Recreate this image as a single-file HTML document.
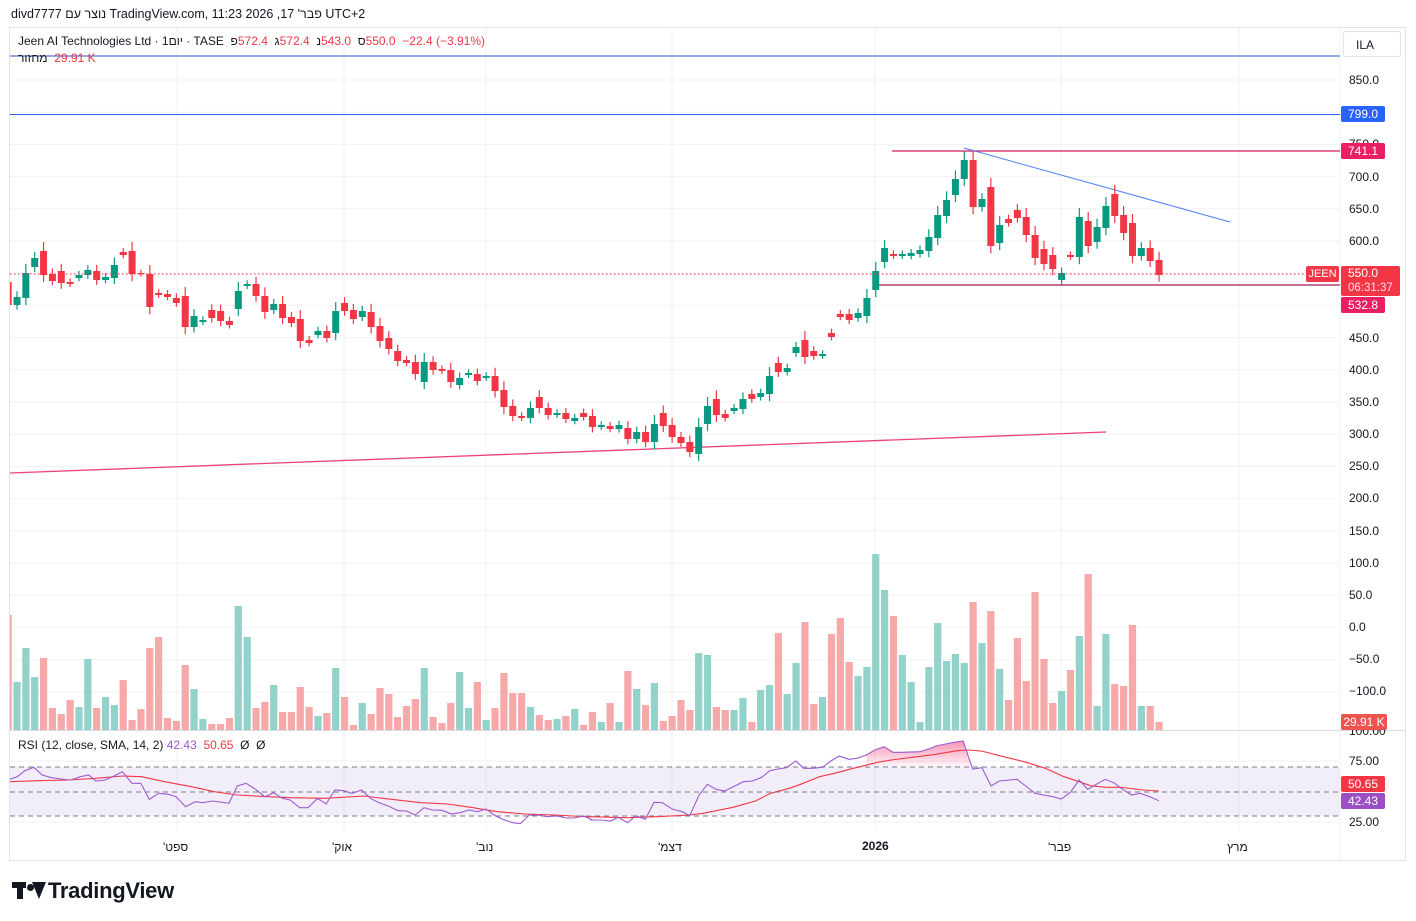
<!DOCTYPE html>
<html><head><meta charset="utf-8">
<style>
body{margin:0;width:1416px;height:921px;background:#fff;overflow:hidden;font-family:"Liberation Sans","Noto Sans CJK JP",sans-serif;position:relative}
.t{position:absolute;white-space:nowrap;font-size:12px;color:#131722}
.s{display:inline-block;unicode-bidi:isolate}
.lab{position:absolute;left:1341px;width:44px;height:16px;color:#fff;font-size:12px;text-align:center;line-height:16px;border-radius:2px}
.ax{position:absolute;left:1349px;font-size:12px;color:#131722}
</style></head><body>
<div class="t" style="left:11px;top:7px;font-size:12.5px"><span class="s">divd7777</span> <span class="s" dir="rtl">נוצר עם</span> <span class="s">TradingView.com, 11:23 2026 ,17</span> <span class="s" dir="rtl">פבר'</span> <span class="s">UTC+2</span></div>
<svg id="c" width="1416" height="921" style="position:absolute;left:0;top:0"></svg>
<div class="t" style="left:18px;top:34px"><span class="s">Jeen AI Technologies Ltd · 1</span><span class="s" dir="rtl">יום</span><span class="s">&nbsp;· TASE&nbsp;&nbsp;</span><span class="s">פ</span><span class="s" style="color:#f23645">572.4&nbsp;&nbsp;</span><span class="s">ג</span><span class="s" style="color:#f23645">572.4&nbsp;&nbsp;</span><span class="s">נ</span><span class="s" style="color:#f23645">543.0&nbsp;&nbsp;</span><span class="s">ס</span><span class="s" style="color:#f23645">550.0&nbsp;&nbsp;−22.4 (−3.91%)</span></div>
<div class="t" style="left:18px;top:51px"><span class="s" dir="rtl">מחזור</span>&nbsp;&nbsp;<span class="s" style="color:#f23645">29.91 K</span></div>
<div class="t" style="left:18px;top:738px"><span class="s">RSI (12, close, SMA, 14, 2)&nbsp;</span><span class="s" style="color:#9c55d0">42.43&nbsp;&nbsp;</span><span class="s" style="color:#f23645">50.65&nbsp;&nbsp;</span><span class="s">Ø&nbsp;&nbsp;Ø</span></div>
<div style="position:absolute;left:1343px;top:31px;width:58px;height:26px;border:1px solid #e0e3eb;border-radius:3px;font-size:12px;line-height:26px;text-align:center;color:#131722;box-sizing:border-box;padding-right:14px">ILA</div>
<div class="ax" style="top:73px">850.0</div>
<div class="ax" style="top:137px">750.0</div>
<div class="ax" style="top:170px">700.0</div>
<div class="ax" style="top:202px">650.0</div>
<div class="ax" style="top:234px">600.0</div>
<div class="ax" style="top:331px">450.0</div>
<div class="ax" style="top:363px">400.0</div>
<div class="ax" style="top:395px">350.0</div>
<div class="ax" style="top:427px">300.0</div>
<div class="ax" style="top:459px">250.0</div>
<div class="ax" style="top:491px">200.0</div>
<div class="ax" style="top:524px">150.0</div>
<div class="ax" style="top:556px">100.0</div>
<div class="ax" style="top:588px">50.0</div>
<div class="ax" style="top:620px">0.0</div>
<div class="ax" style="top:652px">−50.0</div>
<div class="ax" style="top:684px">−100.0</div>
<div class="ax" style="top:724px">100.00</div>
<div class="ax" style="top:754px">75.00</div>
<div class="ax" style="top:815px">25.00</div>
<div class="lab" style="top:106px;background:#2962ff">799.0</div>
<div class="lab" style="top:143px;background:#e91e63">741.1</div>
<div class="lab" style="top:266px;height:30px;width:59px;background:#f23645;line-height:14px;text-align:left;padding-left:7px;box-sizing:border-box">550.0<br><span style="font-size:11.5px;opacity:.85">06:31:37</span></div>
<div style="position:absolute;left:1306px;top:266px;width:33px;height:16px;background:#f23645;color:#fff;font-size:11px;line-height:16px;text-align:center;border-radius:2px">JEEN</div>
<div class="lab" style="top:297px;background:#e91e63">532.8</div>
<div class="lab" style="top:714px;background:#ef5350;width:46px">29.91 K</div>
<div class="lab" style="top:776px;background:#f23645">50.65</div>
<div class="lab" style="top:793px;background:#9c4fc4">42.43</div>
<div class="t" style="left:163px;top:840px"><span dir="rtl" class="s">ספט'</span></div>
<div class="t" style="left:332px;top:840px"><span dir="rtl" class="s">אוק'</span></div>
<div class="t" style="left:476px;top:840px"><span dir="rtl" class="s">נוב'</span></div>
<div class="t" style="left:658px;top:840px"><span dir="rtl" class="s">דצמ'</span></div>
<div class="t" style="left:862px;top:839px;font-weight:bold">2026</div>
<div class="t" style="left:1048px;top:840px"><span dir="rtl" class="s">פבר'</span></div>
<div class="t" style="left:1227px;top:840px"><span dir="rtl" class="s">מרץ</span></div>
<div style="position:absolute;left:12px;top:878px;font-size:22px;font-weight:bold;color:#131722;letter-spacing:-0.3px"><span style="display:inline-block;width:36px;height:17px;position:relative;vertical-align:-1px"><span style="position:absolute;left:0;top:0;width:14px;height:6px;background:#131722"></span><span style="position:absolute;left:5px;top:0;width:6px;height:17px;background:#131722"></span><span style="position:absolute;left:15px;top:2px;width:7px;height:7px;border-radius:50%;background:#131722"></span><span style="position:absolute;top:0;width:0;height:0;border-left:7px solid transparent;border-right:7px solid transparent;border-top:17px solid #131722;left:20px"></span></span>TradingView</div>
<script>
var NS="http://www.w3.org/2000/svg",S=document.getElementById('c');
function el(t,a){var e=document.createElementNS(NS,t);for(var k in a)e.setAttribute(k,a[k]);S.appendChild(e);return e;}
var d=el('defs',{});
d.innerHTML='<clipPath id="cp"><rect x="10" y="27" width="1330" height="834"/></clipPath><linearGradient id="pg" x1="0" y1="0" x2="0" y2="1"><stop offset="0" stop-color="#f23d7a" stop-opacity="0.55"/><stop offset="1" stop-color="#f23d7a" stop-opacity="0"/></linearGradient>';
el('rect',{x:9.5,y:27.5,width:1396,height:833,fill:'none',stroke:'#e0e3eb'});
el('line',{x1:1340,y1:28,x2:1340,y2:860,stroke:'#f0f3fa'});
for(var p=850;p>=-100;p-=50){var y=80+(850-p)*0.644;el('line',{x1:10,y1:y,x2:1340,y2:y,stroke:'#f2f2f4'});}
[177,344,486,672,875,1061,1239].forEach(function(x){el('line',{x1:x,y1:28,x2:x,y2:830,stroke:'#f0f0f3'});});
el('line',{x1:10,y1:730.5,x2:1405,y2:730.5,stroke:'#d8dbe3'});
el('line',{x1:10,y1:761,x2:1340,y2:761,stroke:'#f2f2f4'});
el('line',{x1:10,y1:822,x2:1340,y2:822,stroke:'#f2f2f4'});
var g=el('g',{'clip-path':'url(#cp)'});
function ge(t,a){var e=document.createElementNS(NS,t);for(var k in a)e.setAttribute(k,a[k]);g.appendChild(e);return e;}
ge('line',{x1:10,y1:56,x2:1340,y2:56,stroke:'#2a55c8','stroke-width':1});
ge('line',{x1:10,y1:114.5,x2:1340,y2:114.5,stroke:'#2962ff','stroke-width':1});
ge('line',{x1:892,y1:151,x2:1340,y2:151,stroke:'#d81b5a','stroke-width':1.2});
ge('line',{x1:876,y1:285,x2:1340,y2:285,stroke:'#a8174e','stroke-width':1.2});
ge('line',{x1:10,y1:473,x2:1106,y2:432,stroke:'#e91e63','stroke-width':1.3,'stroke-opacity':0.85});
ge('line',{x1:964,y1:148,x2:1230,y2:222,stroke:'#3d73f5','stroke-width':1,'stroke-opacity':0.9});
var C=[[282,305,'r'],[297,305,'g'],[273,298,'g'],[258,267,'g'],[251,275,'r'],[274,281,'r'],[271,283,'r'],[282,284,'r'],[275,278,'g'],[270,275,'g'],[271,280,'r'],[277,280,'g'],[265,278,'g'],[252,255,'r'],[251,274,'r'],[273,274,'r'],[274,307,'r'],[293,295,'r'],[294,297,'r'],[298,303,'r'],[296,327,'r'],[316,327,'g'],[320,322,'g'],[310,318,'r'],[311,321,'r'],[321,325,'r'],[291,309,'g'],[284,286,'g'],[284,296,'r'],[296,312,'r'],[304,310,'g'],[304,318,'r'],[317,323,'r'],[319,341,'r'],[340,343,'r'],[331,335,'g'],[331,338,'r'],[311,333,'g'],[303,311,'r'],[310,319,'r'],[311,317,'g'],[312,327,'r'],[326,341,'r'],[338,349,'r'],[351,361,'r'],[360,363,'r'],[362,374,'r'],[362,382,'g'],[362,370,'r'],[369,371,'r'],[370,382,'r'],[378,385,'g'],[373,375,'g'],[374,381,'r'],[376,378,'g'],[376,391,'r'],[390,407,'r'],[406,416,'r'],[416,418,'r'],[408,418,'g'],[397,408,'r'],[408,415,'r'],[413,415,'g'],[413,419,'r'],[418,421,'g'],[413,417,'r'],[416,427,'r'],[425,427,'g'],[426,429,'r'],[425,429,'g'],[428,439,'r'],[432,439,'g'],[432,442,'r'],[424,442,'g'],[413,426,'r'],[425,437,'r'],[437,443,'r'],[442,452,'r'],[427,454,'g'],[406,424,'g'],[399,415,'r'],[414,418,'r'],[408,411,'g'],[399,409,'g'],[394,399,'r'],[393,397,'g'],[376,394,'g'],[363,372,'r'],[368,372,'g'],[347,353,'g'],[340,357,'r'],[351,356,'r'],[354,356,'g'],[333,337,'r'],[314,317,'r'],[314,320,'r'],[313,318,'g'],[298,316,'g'],[271,290,'g'],[248,262,'g'],[254,256,'r'],[254,256,'g'],[253,256,'g'],[250,254,'g'],[237,251,'g'],[215,238,'g'],[200,216,'g'],[179,195,'g'],[160,179,'g'],[160,207,'r'],[199,207,'g'],[187,246,'r'],[225,243,'g'],[219,223,'r'],[210,218,'r'],[217,235,'r'],[235,258,'r'],[249,264,'r'],[255,269,'r'],[273,280,'g'],[255,257,'r'],[217,257,'g'],[221,246,'r'],[227,242,'g'],[206,228,'g'],[194,216,'r'],[215,233,'r'],[223,256,'r'],[248,256,'g'],[248,261,'r'],[260,275,'r']];
var V=[115].concat([396,294,381,324,474,492,450,471,327,474,441,465,390,510,477,294,261,504,513,345,417,507,522,522,504,168,261,474,456,405,486,486,411,471,498,489,354,441,525,459,492,414,432,501,468,447,354,501,519,459,366,474,396,510,474,369,429,429,471,495,510,507,498,477,525,486,516,459,516,363,417,465,399,513,498,450,480,309,315,471,480,480,444,516,420,405,249,432,339,216,462,441,252,204,336,378,351,12,120,198,315,396,516,351,219,333,312,339,156,279,183,357,450,264,393,126,327,459,423,360,258,72,468,252,402,408,225,468,468,516].map(function(t){return (540-t)/3;}));
for(var i=0;i<C.length;i++){
 var x=17+(i-1)*8.853,c=C[i],col=c[2]=='g'?'#089981':'#f23645',vc=c[2]=='g'?'#92d2cb':'#f7a8a8';
 var h=V[i];ge('rect',{x:x-3.6,y:730-h,width:7.2,height:h,fill:vc});
 var w=Math.max(3,Math.min(9,(c[1]-c[0])*0.35+3));
 ge('line',{x1:x,y1:c[0]-w,x2:x,y2:c[1]+w*0.8,stroke:col,'stroke-width':1.2});
 ge('rect',{x:x-3.5,y:c[0],width:7,height:Math.max(1.2,c[1]-c[0]),fill:col});
}
ge('line',{x1:10,y1:274,x2:1305,y2:274,stroke:'#f23645','stroke-dasharray':'1.5 2.5','stroke-width':1});
ge('rect',{x:10,y:767,width:1330,height:49,fill:'#7e57c2','fill-opacity':0.1});
[767,792,816].forEach(function(y){ge('line',{x1:10,y1:y,x2:1340,y2:y,stroke:'#787b86','stroke-dasharray':'5 4','stroke-width':1});});
var P1=[[25,148],[45,140],[65,122],[88,112],[110,135],[135,143],[160,147],[185,150],[210,140],[232,135],[250,153],[275,150],[298,138],[320,125],[345,160],[368,160],[390,208],[415,190],[440,193],[460,200],[485,230],[510,215],[530,218],[555,213],[598,220],[620,168],[643,160],[668,178],[692,200],[715,188],[738,205],[758,210],[783,233],[805,233],[830,205],[852,222],[875,180],[898,182],[920,190],[945,180],[968,205],[990,218],[1015,228],[1040,242],[1063,243],[1085,255],[1108,233],[1130,240],[1155,241],[1180,252],[1205,247],[1225,240],[1248,245],[1270,237],[1295,258],[1318,270],[1340,278],[1360,281],[1383,255],[1405,255],[1430,260],[1455,258],[1480,264],[1500,264],[1525,258],[1548,270]].map(function(p){return [p[0]/2.613,730+p[1]/3];});
var P2=[[0,270],[30,270],[55,273],[75,262],[100,278],[122,257],[147,268],[170,217],[192,218],[220,238],[245,245],[265,257],[290,195],[312,163],[335,178],[358,183],[385,168],[408,155],[432,153],[455,143],[478,122],[500,117],[522,113],[547,93],[568,115],[592,115],[618,112],[640,93],[662,78],[688,88],[710,85],[735,75],[757,60],[782,50],[805,67],[830,67],[877,65],[900,57],[920,48],[945,42],[968,37],[992,33],[1017,117],[1042,113],[1066,168],[1088,153],[1135,148],[1158,168],[1183,190],[1205,195],[1230,200],[1253,207],[1277,187],[1300,150],[1323,178],[1347,162],[1370,148],[1395,160],[1415,178],[1440,195],[1462,190],[1488,200],[1512,212]].map(function(p){return [590+p[0]/2.658,730+p[1]/3];});
var R1=[[25,155],[100,152],[180,150],[250,145],[320,138],[370,140],[430,155],[500,170],[560,185],[620,195],[700,200],[760,203],[850,205],[950,198],[1000,205],[1100,218],[1170,222],[1230,232],[1300,245],[1370,252],[1450,255],[1540,261]].map(function(p){return [p[0]/2.613,730+p[1]/3];});
var R2=[[0,260],[100,263],[180,260],[265,255],[300,250],[380,232],[440,213],[480,190],[530,175],[560,163],[610,140],[650,130],[700,115],[760,98],[800,90],[870,80],[920,73],[975,62],[1005,60],[1040,63],[1100,80],[1160,97],[1210,115],[1260,140],[1300,155],[1330,167],[1370,172],[1410,172],[1470,180],[1512,183]].map(function(p){return [590+p[0]/2.658,730+p[1]/3];});
var PU=P1.concat(P2),RE=R1.concat(R2);
function pts(a){return a.map(function(p){return p[0].toFixed(1)+','+p[1].toFixed(1);}).join(' ');}
var ob=PU.filter(function(p){return p[0]>=865&&p[0]<=975;});
ge('polygon',{points:'866,767 '+pts(ob)+' 974,767',fill:'url(#pg)'});
ge('polyline',{points:pts(RE),fill:'none',stroke:'#f23645','stroke-width':1.1});
ge('polyline',{points:pts(PU),fill:'none',stroke:'#9c5ccf','stroke-width':1.1});
</script>
</body></html>
